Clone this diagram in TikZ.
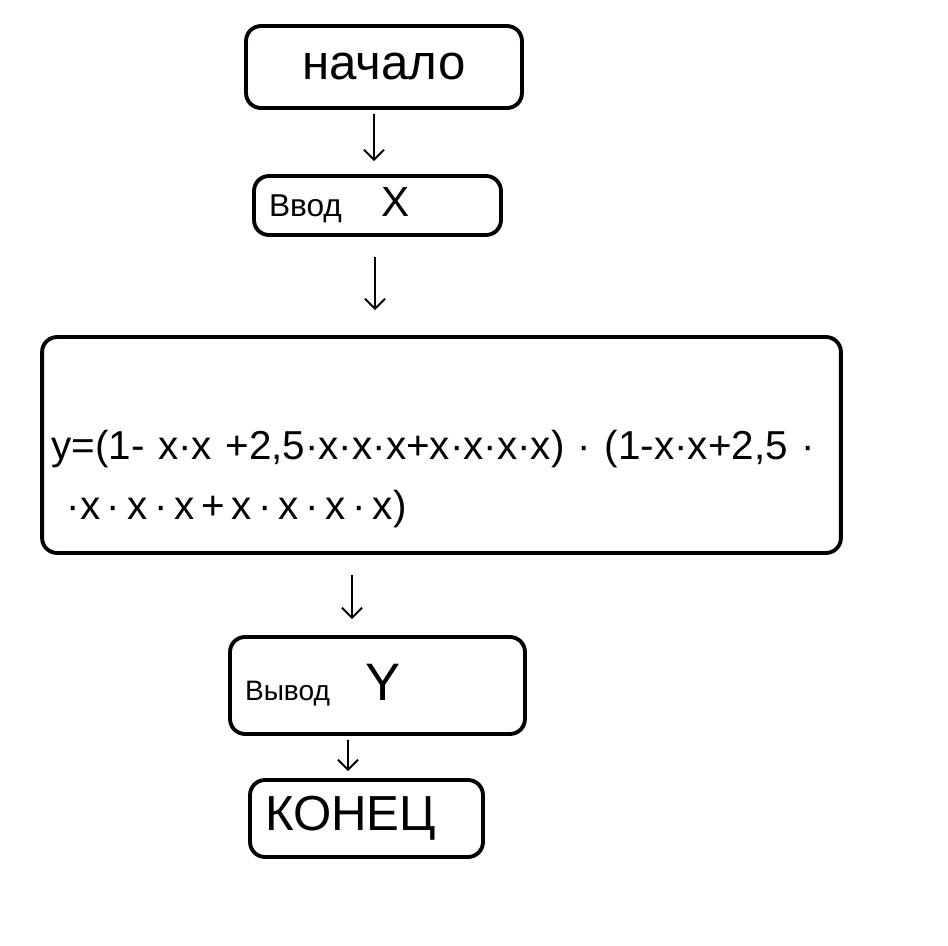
\documentclass[tikz,border=0pt]{standalone}
\usepackage{fontspec}
\setmainfont{Liberation Sans}
\usetikzlibrary{arrows.meta,positioning}

\begin{document}
\begin{tikzpicture}[x=0.02cm,y=-0.02cm,
	blk/.style={draw,line width=2.2pt,rounded corners=0.3cm,inner ysep=0pt,inner xsep=0.3cm,align=left},
	arr/.style={-{Straight Barb[length=0.2cm,width=0.4cm]},line width=1.1pt}]
		\useasboundingbox (0,0) rectangle (948,946);
		\node[blk,minimum width=5.52cm,minimum height=1.64cm,align=center,font=\fontsize{28}{30}\selectfont] (start) at (384,67) {начало};
		\node[blk,minimum width=4.94cm,minimum height=1.18cm,text width=4.34cm] (input) at (377.5,205.5)
			{{\fontsize{18}{20}\selectfont Ввод}\hspace{0.8cm}{\fontsize{24}{26}\selectfont X}};
		\node[blk,inner xsep=0.16cm,minimum width=15.98cm,minimum height=4.32cm,text width=15.6cm,font=\fontsize{23}{34}\selectfont] (calc) at (441.5,445)
			{\rule{0pt}{1.95cm}y=(1- x·x +2,5·x·x·x+x·x·x·x) · (1-x·x+2,5 ·\\
			\hspace{0.3cm}·x\,·\,x\,·\,x\,+\,x\,·\,x\,·\,x\,·\,x)};
		\node[blk,minimum width=5.9cm,minimum height=1.94cm,text width=5.3cm] (output) at (377.5,685.5)
			{{\fontsize{16}{18}\selectfont Вывод}\hspace{0.7cm}{\fontsize{30}{32}\selectfont Y}};
		\node[blk,minimum width=4.66cm,minimum height=1.54cm,text width=4.06cm,font=\fontsize{28}{30}\selectfont] (end) at (366.5,818.5) {КОНЕЦ};
		\draw[arr,shorten <=0.08cm,shorten >=0.26cm] ([xshift=-0.2cm]start.south) -- ([xshift=-0.07cm]input.north);
		\draw[arr,shorten <=0.4cm,shorten >=0.5cm] ([xshift=-1.33cm]calc.north |- input.south) -- ([xshift=-1.33cm]calc.north);
		\draw[arr,shorten <=0.4cm,shorten >=0.32cm] ([xshift=-1.79cm]calc.south) -- ([xshift=-0.51cm]output.north);
		\draw[arr,shorten <=0.08cm,shorten >=0.14cm] ([xshift=-0.59cm]output.south) -- ([xshift=-0.37cm]end.north);
\end{tikzpicture}
\end{document}
